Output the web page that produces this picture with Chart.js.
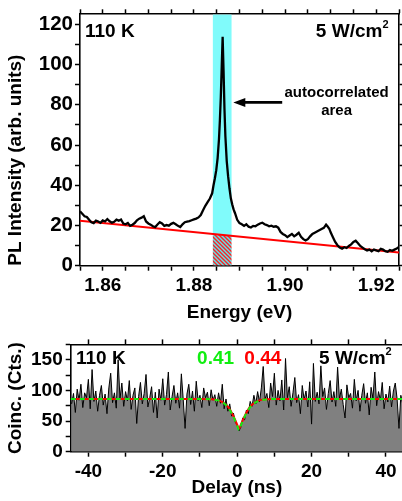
<!DOCTYPE html>
<html>
<head>
<meta charset="utf-8">
<script src="https://cdn.jsdelivr.net/npm/chart.js@4.4.1/dist/chart.umd.min.js"></script>
<style>
  html, body { margin: 0; padding: 0; width: 402px; height: 501px; overflow: hidden; background: #fff; }
  canvas { position: absolute; left: 0; }
  #spectrum { top: 0; }
  #g2 { top: 330px; }
</style>
</head>
<body>
<canvas id="spectrum" width="410" height="330"></canvas>
<canvas id="g2" width="412" height="171"></canvas>
<script>
// ── PL spectrum (110 K, 5 W/cm²) ──────────────────────
const energy = [
  1.8550, 1.8555, 1.8560, 1.8565, 1.8570, 1.8575, 1.8580, 1.8585, 1.8590, 1.8595,
  1.8600, 1.8605, 1.8610, 1.8615, 1.8620, 1.8625, 1.8630, 1.8635, 1.8640, 1.8645,
  1.8650, 1.8655, 1.8660, 1.8665, 1.8670, 1.8675, 1.8680, 1.8685, 1.8690, 1.8695,
  1.8700, 1.8705, 1.8710, 1.8715, 1.8720, 1.8725, 1.8730, 1.8735, 1.8740, 1.8745,
  1.8750, 1.8755, 1.8760, 1.8765, 1.8770, 1.8775, 1.8780, 1.8785, 1.8790, 1.8795,
  1.8800, 1.8805, 1.8810, 1.8815, 1.8820, 1.8825, 1.8830, 1.8835, 1.8840, 1.8843,
  1.8846, 1.8849, 1.8852, 1.8855, 1.8857, 1.8859, 1.8861, 1.8863, 1.8865, 1.8867,
  1.8869, 1.8872, 1.8875, 1.8878, 1.8881, 1.8884, 1.8887, 1.8890, 1.8895, 1.8900,
  1.8905, 1.8910, 1.8915, 1.8920, 1.8925, 1.8930, 1.8935, 1.8940, 1.8945, 1.8950,
  1.8955, 1.8960, 1.8965, 1.8970, 1.8975, 1.8980, 1.8985, 1.8990, 1.8995, 1.9000,
  1.9005, 1.9010, 1.9015, 1.9020, 1.9025, 1.9030, 1.9035, 1.9040, 1.9045, 1.9050,
  1.9055, 1.9060, 1.9065, 1.9070, 1.9075, 1.9080, 1.9085, 1.9090, 1.9093, 1.9097,
  1.9100, 1.9105, 1.9110, 1.9115, 1.9120, 1.9125, 1.9130, 1.9135, 1.9140, 1.9145,
  1.9150, 1.9155, 1.9160, 1.9165, 1.9170, 1.9175, 1.9180, 1.9185, 1.9190, 1.9195,
  1.9200, 1.9205, 1.9210, 1.9215, 1.9220, 1.9225, 1.9230, 1.9235, 1.9240, 1.9245,
  1.9250,
];

const intensity = [
  27.0, 25.8, 24.6, 24.2, 22.8, 21.6, 21.2, 22.4, 22.0, 21.3,
  22.5, 22.0, 23.2, 22.1, 21.4, 21.8, 22.9, 22.4, 23.0, 21.0,
  20.6, 21.2, 19.8, 20.4, 21.2, 22.6, 23.4, 23.9, 24.6, 22.0,
  21.0, 20.4, 19.6, 19.2, 20.5, 21.6, 21.0, 19.8, 20.2, 19.9,
  20.8, 21.3, 20.6, 19.8, 19.2, 20.6, 21.6, 21.9, 22.2, 22.6,
  23.0, 23.4, 24.0, 25.2, 27.6, 29.8, 31.6, 33.4, 36.0, 40.0,
  43.5, 47.5, 53.5, 63.0, 72.5, 84.0, 99.0, 113.8, 97.0, 78.0,
  64.5, 52.0, 44.5, 38.5, 33.5, 30.5, 28.0, 26.2, 22.8, 21.2,
  20.6, 19.8, 20.6, 19.4, 19.0, 19.8, 19.6, 20.4, 21.0, 21.4,
  20.6, 20.2, 19.6, 19.9, 19.4, 19.6, 18.9, 16.8, 15.8, 15.2,
  14.2, 15.0, 15.8, 14.6, 15.4, 16.4, 14.4, 13.2, 12.6, 13.2,
  14.6, 15.8, 16.4, 17.0, 17.6, 18.2, 18.8, 20.4, 19.6, 18.4,
  16.6, 14.2, 11.8, 10.2, 9.0, 8.5, 9.2, 8.8, 9.8, 10.6,
  11.8, 12.4, 11.2, 9.8, 9.0, 8.2, 7.6, 8.0, 7.2, 8.0,
  7.6, 7.2, 8.4, 8.0, 7.2, 6.9, 7.8, 7.4, 8.0, 8.6,
  9.3,
];

// linear background under the spectrum (end points)
const backgroundEnergy = [1.855, 1.925];
const backgroundLevel = [22.3, 6.6];

// spectral window sent to the correlator
const windowEnergy = [1.8841, 1.8883];

// ── Coincidence histogram ─────────────────────────────
const delayStart = -44.5;   // ns, first bin
const delayStep = 0.5;      // ns per bin

const coincidences = [
  78, 95, 64, 102, 84, 110, 72, 96, 88, 118, 70, 134, 82, 99, 66, 92, 108, 76, 94, 62,
  104, 128, 80, 96, 71, 150, 86, 112, 74, 98, 83, 116, 69, 92, 104, 46, 90, 113, 78, 95,
  126, 73, 88, 106, 64, 97, 55, 102, 84, 119, 76, 93, 130, 68, 90, 108, 79, 96, 71, 127,
  85, 38, 94, 110, 77, 99, 66, 115, 83, 92, 72, 104, 88, 97, 75, 101, 84, 93, 74, 96,
  79, 110, 70, 86, 66, 78, 58, 63, 48, 44, 34, 40, 55, 52, 68, 62, 82, 74, 92, 78,
  98, 81, 104, 139, 86, 95, 72, 112, 90, 128, 76, 100, 83, 117, 68, 152, 88, 106, 74, 96,
  121, 80, 93, 62, 108, 85, 99, 73, 114, 45, 144, 82, 97, 78, 140, 90, 104, 69, 95, 116,
  81, 98, 74, 138, 86, 102, 77, 55, 109, 88, 95, 71, 118, 83, 100, 66, 92, 111, 79, 96,
  60, 105, 87, 130, 75, 98, 84, 113, 70, 94, 81, 107, 73, 99, 112, 86, 38, 92, 78,
];

// fitted g2 curves, g2(0) = 0.44 (red) and 0.41 (green)
const fitDelay = [-44.75, -10, -7, -5.5, -4.5, -3.5, -2.5, -1.5, -0.5, 0, 0.5, 1, 1.5, 2.5, 3.5, 4.5, 5.5, 6.5, 8, 11, 44.6];
const fitRed   = [86, 86, 85.5, 84.5, 82.5, 79, 73.5, 64, 51.5, 44, 37.8, 44, 51.5, 64, 73.5, 79, 82.5, 84.5, 85.5, 86, 86];
const fitGreen = [86, 86, 85.4, 84.3, 82.2, 78.6, 72.8, 63, 50, 42.5, 35.3, 42.5, 50, 63, 72.8, 78.6, 82.2, 84.3, 85.4, 86, 86];

// ── Shared style ──────────────────────────────────────
const FONT = "'Liberation Sans', Arial, Helvetica, sans-serif";
const RED = '#ff0000';
const GREEN = '#11ee11';
const CYAN = '#80fbfb';

Chart.defaults.font.family = FONT;
Chart.defaults.font.weight = 'bold';
Chart.defaults.color = '#000';

const xy = (xs, ys) => xs.map((x, i) => ({ x, y: ys[i] }));

// tick values from..to, every step (no extra ticks at the axis ends)
const tickRange = (from, to, step) => {
  const out = [];
  for (let v = from; v <= to + step * 1e-6; v += step) out.push(+v.toFixed(4));
  return out;
};

// a frame side with outward tick marks
const frameAxis = (position, min, max, ticksAt, extra = {}) => ({
  type: 'linear',
  position,
  min, max,
  grid: { drawOnChartArea: false, drawTicks: true, tickLength: 5, tickWidth: 1.5, tickColor: '#000' },
  border: { display: true, color: '#000', width: 1.6 },
  afterBuildTicks: (s) => { s.ticks = ticksAt.map(value => ({ value })); },
  ...extra,
  ticks: { autoSkip: false, maxRotation: 0, ...(extra.ticks || {}) },
});

const labelEvery = (every, digits, scale) => (v) => {
  const r = Math.round(v * scale);
  return r % Math.round(every * scale) === 0 ? (r / scale).toFixed(digits) : '';
};

const hatch = (() => {
  const c = document.createElement('canvas');
  c.width = 4; c.height = 4;
  const g = c.getContext('2d');
  g.fillStyle = '#5fe6ee';
  g.fillRect(0, 0, 4, 4);
  g.strokeStyle = '#ff2020';
  g.lineWidth = 1.4;
  g.beginPath();
  g.moveTo(-1, -1); g.lineTo(5, 5);
  g.moveTo(-1, 3); g.lineTo(1, 5);
  g.moveTo(3, -1); g.lineTo(5, 1);
  g.stroke();
  return g.createPattern(c, 'repeat');
})();

const drawPower = (ctx, right, y) => {
  ctx.font = `bold 19px ${FONT}`;
  const w = ctx.measureText('5 W/cm').width;
  ctx.font = `bold 11px ${FONT}`;
  const w2 = ctx.measureText('2').width;
  ctx.textAlign = 'left';
  ctx.fillText('2', right - w2, y - 7);
  ctx.font = `bold 19px ${FONT}`;
  ctx.fillText('5 W/cm', right - w2 - w, y);
};

// ── Top panel: spectrum ───────────────────────────────
const backgroundAt = (e) => backgroundLevel[0] +
  (backgroundLevel[1] - backgroundLevel[0]) * (e - backgroundEnergy[0]) / (backgroundEnergy[1] - backgroundEnergy[0]);

const spectrumLabels = {
  id: 'spectrumLabels',
  afterDatasetsDraw(chart) {
    const { ctx, chartArea: a, scales: { x, y } } = chart;
    ctx.save();
    ctx.fillStyle = '#000';
    ctx.textBaseline = 'middle';
    ctx.font = `bold 19px ${FONT}`;
    ctx.textAlign = 'left';
    ctx.fillText('110 K', a.left + 5, a.top + 17.5);
    drawPower(ctx, a.right - 10.5, a.top + 17.5);

    // arrow pointing at the selected window
    const ay = y.getPixelForValue(81.2);
    const x0 = x.getPixelForValue(1.88864);
    const x1 = x.getPixelForValue(1.89937);
    ctx.strokeStyle = '#000';
    ctx.lineWidth = 2.6;
    ctx.beginPath();
    ctx.moveTo(x1, ay);
    ctx.lineTo(x0 + 8, ay);
    ctx.stroke();
    ctx.beginPath();
    ctx.moveTo(x0, ay);
    ctx.lineTo(x0 + 12, ay - 4.5);
    ctx.lineTo(x0 + 12, ay + 4.5);
    ctx.closePath();
    ctx.fill();

    ctx.font = `bold 15px ${FONT}`;
    ctx.textAlign = 'center';
    const tx = x.getPixelForValue(1.9113);
    ctx.fillText('autocorrelated', tx, y.getPixelForValue(85.8));
    ctx.fillText('area', tx, y.getPixelForValue(76.9));
    ctx.restore();
  },
};

const energyTicks = tickRange(1.855, 1.925, 0.005);
const intensityTicks = tickRange(0, 120, 10);

new Chart(document.getElementById('spectrum'), {
  type: 'line',
  data: {
    datasets: [
      {
        data: xy(energy, intensity),
        borderColor: '#000', borderWidth: 2.3,
        pointRadius: 0, order: 0,
      },
      {
        data: xy(backgroundEnergy, backgroundLevel),
        borderColor: RED, borderWidth: 2,
        pointRadius: 0, order: 1,
      },
      {
        data: xy(windowEnergy, [125, 125]),
        borderWidth: 0, pointRadius: 0,
        backgroundColor: CYAN, fill: '+1', order: 3,
      },
      {
        data: xy(windowEnergy, windowEnergy.map(backgroundAt)),
        borderWidth: 0, pointRadius: 0,
        backgroundColor: hatch, fill: 'origin', order: 2,
      },
    ],
  },
  options: {
    responsive: false,
    animation: false,
    devicePixelRatio: 1,
    layout: { padding: { left: 0, top: 4.5, right: 6, bottom: 0 } },
    plugins: { legend: { display: false }, tooltip: { enabled: false } },
    scales: {
      x: frameAxis('bottom', 1.855, 1.925, energyTicks, {
        afterFit: (s) => { s.height = 64.3; },
        ticks: { callback: labelEvery(0.02, 2, 1000), font: { size: 19 }, padding: 4 },
        title: { display: true, text: 'Energy (eV)', font: { size: 19 }, padding: { top: 0, bottom: 6 } },
      }),
      x2: frameAxis('top', 1.855, 1.925, energyTicks, {
        afterFit: (s) => { s.height = 5; },
        ticks: { display: false },
      }),
      y: frameAxis('left', 0, 125, intensityTicks, {
        afterFit: (s) => { s.width = 80; },
        ticks: { callback: labelEvery(20, 0, 1), font: { size: 20.5 }, padding: 2 },
        title: { display: true, text: 'PL Intensity (arb. units)', align: 'start', font: { size: 19 }, padding: { top: 4, bottom: 0 } },
      }),
      y2: frameAxis('right', 0, 125, intensityTicks, {
        afterFit: (s) => { s.width = 5; },
        ticks: { display: false },
      }),
    },
  },
  plugins: [spectrumLabels],
});

// ── Bottom panel: second-order correlation ────────────
const delays = coincidences.map((_, i) => delayStart + i * delayStep);
const delayTicks = tickRange(-40, 40, 10);
const countTicks = tickRange(0, 175, 25);

const g2Labels = {
  id: 'g2Labels',
  afterDatasetsDraw(chart) {
    const { ctx, chartArea: a, scales: { x } } = chart;
    const ty = a.top + 14.8;
    ctx.save();
    ctx.textBaseline = 'middle';
    ctx.font = `bold 19px ${FONT}`;
    ctx.fillStyle = '#000';
    ctx.textAlign = 'left';
    ctx.fillText('110 K', a.left + 5.3, ty);
    drawPower(ctx, a.right - 11.3, ty);
    ctx.textAlign = 'center';
    ctx.fillStyle = GREEN;
    ctx.fillText('0.41', x.getPixelForValue(-5.8), ty);
    ctx.fillStyle = RED;
    ctx.fillText('0.44', x.getPixelForValue(6.9), ty);
    ctx.restore();
  },
};

new Chart(document.getElementById('g2'), {
  type: 'line',
  data: {
    datasets: [
      {
        data: xy(delays, coincidences),
        borderColor: '#000', borderWidth: 1,
        backgroundColor: '#808080', fill: 'origin',
        pointRadius: 0, order: 2,
      },
      {
        data: xy(fitDelay, fitRed),
        borderColor: RED, borderWidth: 2,
        cubicInterpolationMode: 'monotone',
        pointRadius: 0, order: 1,
      },
      {
        data: xy(fitDelay, fitGreen),
        borderColor: GREEN, borderWidth: 2, borderDash: [5, 4],
        cubicInterpolationMode: 'monotone',
        pointRadius: 0, order: 0,
      },
    ],
  },
  options: {
    responsive: false,
    animation: false,
    devicePixelRatio: 1,
    layout: { padding: { left: 0, top: 7.7, right: 4, bottom: 0 } },
    plugins: { legend: { display: false }, tooltip: { enabled: false } },
    scales: {
      x: frameAxis('bottom', -44.75, 44.58, delayTicks, {
        afterFit: (s) => { s.height = 49.3; },
        ticks: { callback: labelEvery(20, 0, 1), font: { size: 19 }, padding: 4 },
        title: { display: true, text: 'Delay (ns)', font: { size: 19 }, padding: { top: 0, bottom: 2 } },
      }),
      x2: frameAxis('top', -44.75, 44.58, delayTicks, {
        afterFit: (s) => { s.height = 5; },
        ticks: { display: false },
      }),
      y: frameAxis('left', 0, 175, countTicks, {
        afterFit: (s) => { s.width = 70.7; },
        ticks: { callback: labelEvery(50, 0, 1), font: { size: 19 }, padding: 3 },
        title: { display: true, text: 'Coinc. (Cts.)', font: { size: 19 }, padding: { top: 4, bottom: 0 } },
      }),
      y2: frameAxis('right', 0, 175, countTicks, {
        afterFit: (s) => { s.width = 5; },
        ticks: { display: false },
      }),
    },
  },
  plugins: [g2Labels],
});
</script>
</body>
</html>
